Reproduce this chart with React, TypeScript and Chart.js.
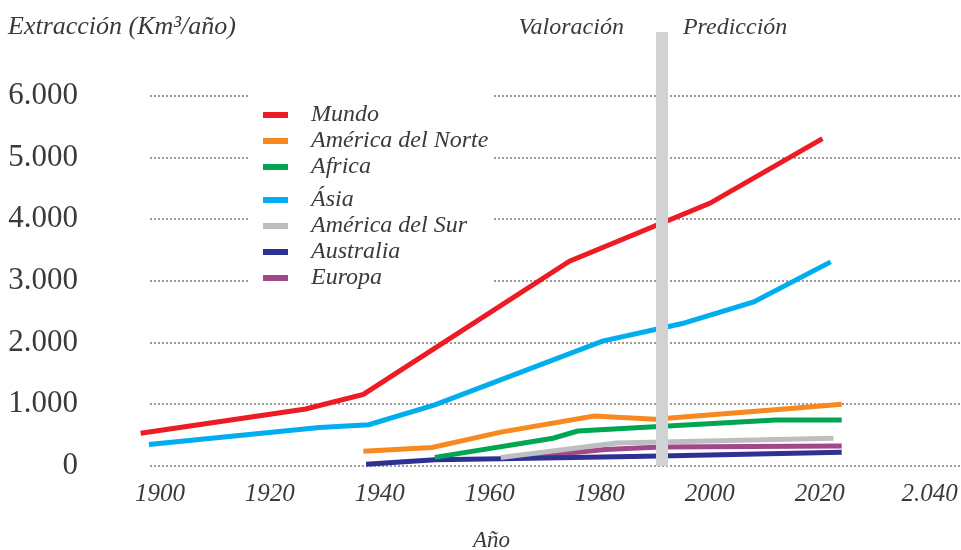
import React, { useEffect, useRef } from "react";
import { Chart, registerables } from "chart.js";

Chart.register(...registerables);

// ---- data ----
const xTickValues = [1900, 1920, 1940, 1960, 1980, 2000, 2020, 2040];
const xTickLabels = ["1900", "1920", "1940", "1960", "1980", "2000", "2020", "2.040"];
const yTickValues = [0, 1000, 2000, 3000, 4000, 5000, 6000];
const yTickLabels = ["0", "1.000", "2.000", "3.000", "4.000", "5.000", "6.000"];

const seriesNames = ["Mundo", "América del Norte", "Africa", "Ásia", "América del Sur", "Australia", "Europa"];
const seriesColors = ["#ed1c24", "#f7891f", "#00a651", "#00aeef", "#bcbec0", "#2e3192", "#a0488a"];

const mundoYears = [1896.5, 1926.5, 1937, 1974.5, 2000, 2020.5];
const mundoValues = [530, 925, 1160, 3320, 4260, 5310];
const norteYears = [1937, 1949.5, 1962, 1979, 1990, 2013, 2024];
const norteValues = [240, 300, 550, 810, 757, 920, 1000];
const africaYears = [1950, 1971.5, 1976, 2012, 2024];
const africaValues = [140, 450, 567, 746, 746];
const asiaYears = [1898, 1929, 1938, 1950, 1980.5, 1995, 2008, 2022];
const asiaValues = [350, 625, 670, 990, 2025, 2310, 2660, 3310];
const surYears = [1962, 1983, 2022.5];
const surValues = [138, 373, 449];
const australiaYears = [1937.5, 1950, 1962, 1991, 2024];
const australiaValues = [30, 100, 118, 162, 222];
const europaYears = [1965, 1981, 1991, 2024];
const europaValues = [130, 267, 308, 324];

const dividerYear = 1991.3;
const titleText = "Extracción (Km³/año)";
const leftPhase = "Valoración";
const rightPhase = "Predicción";
const xAxisTitle = "Año";

const seriesYears = [mundoYears, norteYears, africaYears, asiaYears, surYears, australiaYears, europaYears];
const seriesValues = [mundoValues, norteValues, africaValues, asiaValues, surValues, australiaValues, europaValues];

const SERIF = "'Liberation Serif', 'Times New Roman', serif";
const TEXT = "#3a3a3a";

const decorPlugin = {
  id: "decor",
  beforeDatasetsDraw(chart: any) {
    const ctx = chart.ctx;
    ctx.save();
    ctx.fillStyle = "#ffffff";
    ctx.fillRect(249, 88, 245, 204);
    const rows = [115, 141, 167, 200, 226, 252, 278];
    ctx.font = `italic 24px ${SERIF}`;
    ctx.textBaseline = "alphabetic";
    ctx.textAlign = "left";
    seriesNames.forEach((name, i) => {
      ctx.fillStyle = seriesColors[i];
      ctx.fillRect(263, rows[i] - 3, 25, 6);
      ctx.fillStyle = TEXT;
      ctx.fillText(name, 311, rows[i] + 6);
    });
    ctx.restore();
  },
  afterDatasetsDraw(chart: any) {
    const ctx = chart.ctx;
    const xs = chart.scales.x;
    const ys = chart.scales.y;
    const bx = xs.getPixelForValue(dividerYear);
    const y0 = ys.getPixelForValue(0);
    ctx.save();
    ctx.fillStyle = "#d1d2d4";
    ctx.fillRect(Math.round(bx - 6), 32, 12, y0 - 32);
    ctx.fillStyle = TEXT;
    ctx.font = `italic 24px ${SERIF}`;
    ctx.textBaseline = "alphabetic";
    ctx.textAlign = "right";
    ctx.fillText(leftPhase, bx - 38, 34);
    ctx.textAlign = "left";
    ctx.fillText(rightPhase, bx + 21, 34);
    ctx.font = `italic 26px ${SERIF}`;
    ctx.fillText(titleText, 8, 34);
    ctx.font = `italic 23px ${SERIF}`;
    ctx.textAlign = "center";
    ctx.fillText(xAxisTitle, xs.getPixelForValue(1960.3), 547);
    ctx.restore();
  },
};

export default function App() {
  const ref = useRef<HTMLCanvasElement | null>(null);
  useEffect(() => {
    if (!ref.current) return;
    const datasets = seriesNames.map((name, i) => ({
      label: name,
      data: seriesYears[i].map((x, j) => ({ x, y: seriesValues[i][j] })),
      borderColor: seriesColors[i],
      backgroundColor: seriesColors[i],
      borderWidth: 5,
      pointRadius: 0,
      tension: 0,
      clip: false as any,
      borderCapStyle: "butt" as const,
    }));
    const chart = new Chart(ref.current, {
      type: "line",
      data: { datasets },
      plugins: [decorPlugin],
      options: {
        animation: false,
        responsive: true,
        maintainAspectRatio: false,
        layout: { padding: { top: 96, right: 0, left: 0, bottom: 0 } },
        plugins: { legend: { display: false }, title: { display: false }, tooltip: { enabled: false } },
        scales: {
          x: {
            type: "linear",
            min: 1898.2,
            max: 2045.7,
            grid: { display: false, drawTicks: false },
            border: { display: false },
            afterBuildTicks: (s: any) => {
              s.ticks = xTickValues.map((v) => ({ value: v }));
            },
            afterFit: (s: any) => {
              s.height = 84;
              s.paddingLeft = 0;
              s.paddingRight = 0;
            },
            ticks: {
              autoSkip: false,
              maxRotation: 0,
              padding: 13,
              color: TEXT,
              font: { family: SERIF, style: "italic", size: 25 },
              callback: (v: any) => xTickLabels[xTickValues.indexOf(Number(v))] ?? "",
            },
          },
          y: {
            min: 0,
            max: 6000,
            grid: { color: "#9a9a9a", lineWidth: 2, drawTicks: false },
            border: { display: false, dash: [2, 2] },
            afterBuildTicks: (s: any) => {
              s.ticks = yTickValues.map((v) => ({ value: v }));
            },
            afterFit: (s: any) => {
              s.width = 150;
              s.paddingTop = 0;
              s.paddingBottom = 0;
            },
            ticks: {
              padding: 72,
              color: TEXT,
              font: { family: SERIF, size: 31 },
              callback: (v: any) => yTickLabels[yTickValues.indexOf(Number(v))] ?? "",
            },
          },
        },
      },
    });
    return () => chart.destroy();
  }, []);
  return (
    <div style={{ position: "fixed", left: 0, top: 0, width: 961, height: 550, background: "#fff" }}>
      <canvas ref={ref} />
    </div>
  );
}
